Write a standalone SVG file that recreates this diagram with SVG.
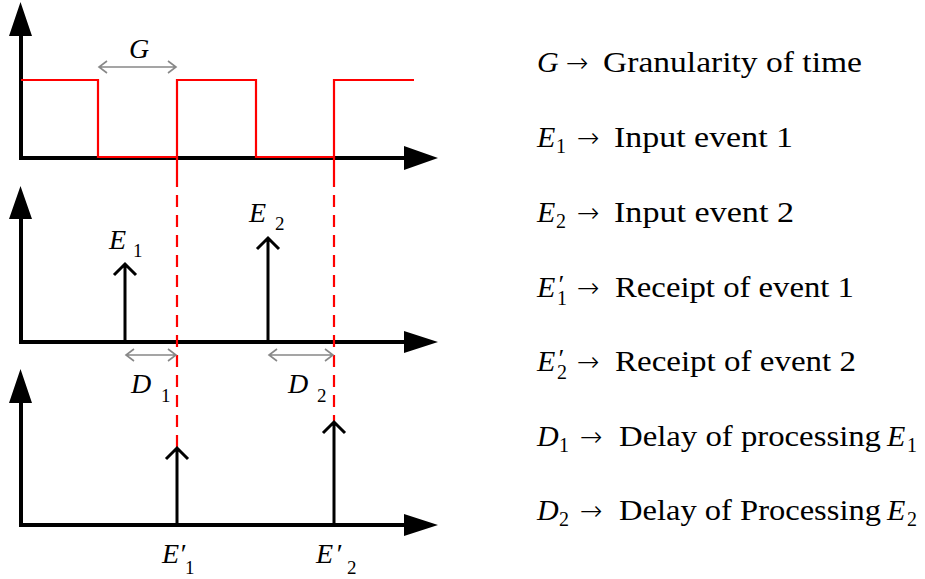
<svg xmlns="http://www.w3.org/2000/svg" width="925" height="579" viewBox="0 0 925 579">
<style>
.axis{stroke:#000;stroke-width:4;fill:none}
.head{fill:#000;stroke:none}
.wave{stroke:#f00;stroke-width:2.2;fill:none}
.dash{stroke:#f00;stroke-width:2.2;fill:none;stroke-dasharray:12 8}
.ev{stroke:#000;stroke-width:3;fill:none}
.dim{stroke:#888;stroke-width:1.6;fill:none}
.lab{font-family:"Liberation Serif","Times New Roman",serif;font-style:italic;font-size:28px;fill:#000}
.ls{font-family:"Liberation Serif","Times New Roman",serif;font-style:normal;font-size:19px;fill:#000}
.leg{font-family:"Liberation Serif","Times New Roman",serif;font-size:30px;fill:#000}
.mi{font-family:"Liberation Serif","Times New Roman",serif;font-style:italic;font-size:30px;fill:#000}
.sub{font-family:"Liberation Serif","Times New Roman",serif;font-style:normal;font-size:20px}
.pr{font-family:"Liberation Serif","Times New Roman",serif;font-style:italic;font-size:26px}
.arr{font-family:"DejaVu Sans",sans-serif;font-weight:200;font-size:27px;fill:#000}
</style>
<rect width="925" height="579" fill="#fff"/>
<g id="axes">
  <path class="axis" d="M21,158 V34 M19,158 H406"/>
  <path class="head" d="M9,36 L20.5,2 L32,36 Z M404,146 L438,158 L404,170 Z"/>
  <path class="axis" d="M21,342 V217 M19,342 H406"/>
  <path class="head" d="M9,219 L20.5,186 L32,219 Z M404,331 L438,342 L404,353 Z"/>
  <path class="axis" d="M21,525 V401 M19,525 H406"/>
  <path class="head" d="M9,403 L20.5,369 L32,403 Z M404,514 L438,525 L404,536 Z"/>
</g>
<g id="connectors">
  <path class="wave" d="M21,80 H98 V157 H177 V80 H256 V157 H334 V80 H414"/>
  <path class="wave" d="M177,157 V175 M334,157 V175"/>
  <path class="dash" d="M177,175 V447"/>
  <path class="dash" d="M334,175 V421"/>
  <path class="ev" d="M125,342 V264 M114,275 L125,264 L136,275"/>
  <path class="ev" d="M268,342 V238 M257,249 L268,238 L279,249"/>
  <path class="ev" d="M177,525 V448 M166,459 L177,448 L188,459"/>
  <path class="ev" d="M334,525 V422 M323,433 L334,422 L345,433"/>
  <path class="dim" d="M99,67 H176 M107,61 L99,67 L107,73 M168,61 L176,67 L168,73"/>
  <path class="dim" d="M126,355 H176 M134,349 L126,355 L134,361 M168,349 L176,355 L168,361"/>
  <path class="dim" d="M269,355 H333 M277,349 L269,355 L277,361 M325,349 L333,355 L325,361"/>
</g>
<g id="labels-left">
  <text class="lab" x="129" y="58" font-size="31">G</text>
  <text class="lab" x="109" y="249">E<tspan class="ls" x="133" y="257">1</tspan></text>
  <text class="lab" x="249" y="222">E<tspan class="ls" x="275" y="230">2</tspan></text>
  <text class="lab" x="131" y="393" font-size="29">D<tspan class="ls" x="161" y="402">1</tspan></text>
  <text class="lab" x="288" y="393" font-size="29">D<tspan class="ls" x="317" y="402">2</tspan></text>
  <text class="lab" x="162" y="563">E′<tspan class="ls" x="185" y="574">1</tspan></text>
  <text class="lab" x="316" y="563">E<tspan dx="2">′</tspan><tspan class="ls" x="347" y="574">2</tspan></text>
</g>
<g id="legend">
  <text class="mi" x="537" y="72">G</text>
  <text class="arr" x="566" y="72">→</text>
  <text class="leg" x="603" y="72" textLength="259" lengthAdjust="spacingAndGlyphs">Granularity of time</text>

  <text class="mi" x="537" y="147">E<tspan class="sub" x="556" y="153">1</tspan></text>
  <text class="arr" x="577" y="147">→</text>
  <text class="leg" x="614" y="147" textLength="179" lengthAdjust="spacingAndGlyphs">Input event 1</text>

  <text class="mi" x="537" y="222">E<tspan class="sub" x="556" y="228">2</tspan></text>
  <text class="arr" x="577" y="222">→</text>
  <text class="leg" x="614" y="222" textLength="180" lengthAdjust="spacingAndGlyphs">Input event 2</text>

  <text class="mi" x="537" y="297">E<tspan class="pr" x="557" y="293">′</tspan><tspan class="sub" x="557" y="305">1</tspan></text>
  <text class="arr" x="577" y="297">→</text>
  <text class="leg" x="615" y="297" textLength="239" lengthAdjust="spacingAndGlyphs">Receipt of event 1</text>

  <text class="mi" x="537" y="371">E<tspan class="pr" x="557" y="367">′</tspan><tspan class="sub" x="557" y="379">2</tspan></text>
  <text class="arr" x="577" y="371">→</text>
  <text class="leg" x="615" y="371" textLength="241" lengthAdjust="spacingAndGlyphs">Receipt of event 2</text>

  <text class="mi" x="537" y="446">D<tspan class="sub" x="559" y="452">1</tspan></text>
  <text class="arr" x="580" y="446">→</text>
  <text class="leg" x="619" y="446" textLength="262" lengthAdjust="spacingAndGlyphs">Delay of processing</text>
  <text class="mi" x="887" y="446">E<tspan class="sub" x="907" y="452">1</tspan></text>

  <text class="mi" x="537" y="520">D<tspan class="sub" x="559" y="526">2</tspan></text>
  <text class="arr" x="580" y="520">→</text>
  <text class="leg" x="619" y="520" textLength="262" lengthAdjust="spacingAndGlyphs">Delay of Processing</text>
  <text class="mi" x="887" y="520">E<tspan class="sub" x="907" y="526">2</tspan></text>
</g>
</svg>
